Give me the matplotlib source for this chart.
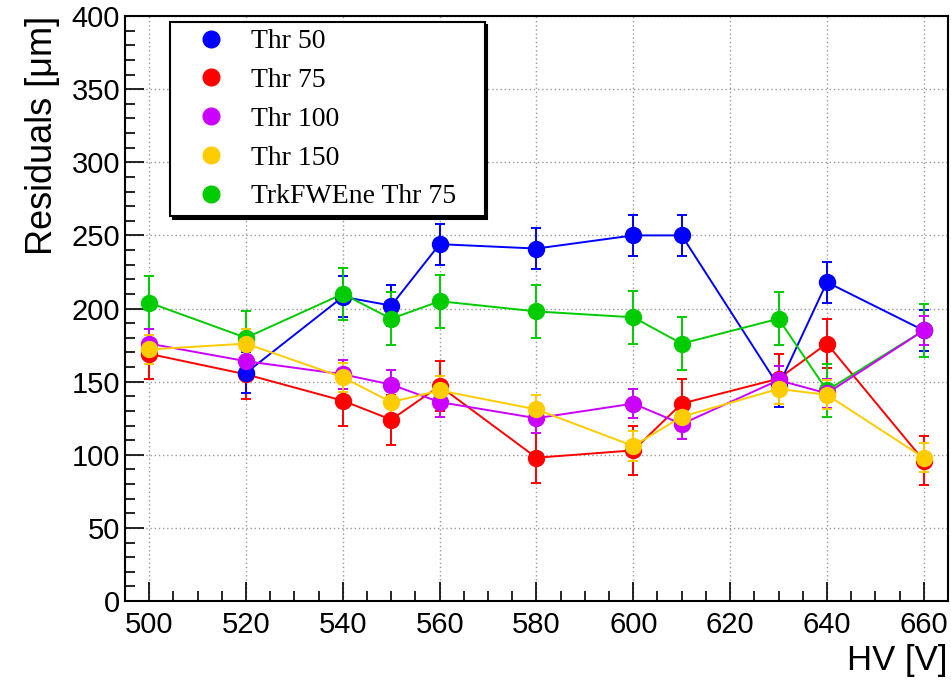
import matplotlib
matplotlib.use('Agg')
import matplotlib.pyplot as plt
from matplotlib.lines import Line2D
from matplotlib.ticker import MultipleLocator

# values
hv = [500, 520, 540, 550, 560, 580, 600, 610, 630, 640, 660]
hv_thr50 = [520, 540, 550, 560, 580, 600, 610, 630, 640, 660]

res_thr50 = [156, 208, 202, 244, 241, 250, 250, 147, 218, 185]
err_thr50 = [14, 14, 14, 14, 14, 14, 14, 14, 14, 14]
res_thr75 = [169, 155, 137, 124, 147, 98, 103, 135, 152, 176, 96]
err_thr75 = [17, 17, 17, 17, 17, 17, 17, 17, 17, 17, 17]
res_thr100 = [176, 164, 155, 148, 136, 125, 135, 121, 151, 142, 185]
err_thr100 = [10, 10, 10, 10, 10, 10, 10, 10, 10, 10, 10]
res_thr150 = [172, 176, 153, 136, 144, 131, 106, 126, 145, 141, 98]
err_thr150 = [10, 10, 10, 10, 10, 10, 10, 10, 10, 10, 10]
res_trk = [204, 180, 210, 193, 205, 198, 194, 176, 193, 144, 185]
err_trk = [18, 18, 18, 18, 18, 18, 18, 18, 18, 18, 18]

labels = ['Thr 50', 'Thr 75', 'Thr 100', 'Thr 150', 'TrkFWEne Thr 75']
colors = ['#0000ff', '#ff0000', '#cc00ff', '#ffcc00', '#00cc00']

plt.rcParams['font.family'] = 'Liberation Sans'

fig = plt.figure(figsize=(9.51, 6.84), dpi=100)
ax = fig.add_axes([0.1314, 0.1213, 0.8654, 0.8553])

# draw order: red, blue, green, magenta, yellow
series = [
    (hv, res_thr75, err_thr75, colors[1]),
    (hv_thr50, res_thr50, err_thr50, colors[0]),
    (hv, res_trk, err_trk, colors[4]),
    (hv, res_thr100, err_thr100, colors[2]),
    (hv, res_thr150, err_thr150, colors[3]),
]
for x, y, e, c in series:
    ax.errorbar(x, y, yerr=e, color=c, marker='o', markersize=11.5, lw=1.4,
                elinewidth=1.4, capsize=3.5, capthick=1.4)

ax.set_xlim(495, 665)
ax.set_ylim(0, 400)
ax.xaxis.set_major_locator(MultipleLocator(20))
ax.xaxis.set_minor_locator(MultipleLocator(5))
ax.yaxis.set_major_locator(MultipleLocator(50))
ax.yaxis.set_minor_locator(MultipleLocator(10))
ax.tick_params(which='both', direction='in', top=False, right=False, labelsize=21, width=1.2)
ax.tick_params(which='major', length=14)
ax.tick_params(which='minor', length=7)
ax.tick_params(axis='x', pad=7)
ax.grid(True, which='major', linestyle=(0, (1, 2)), color='#999999', lw=1)
for s in ax.spines.values():
    s.set_linewidth(1.5)

ax.set_ylabel('Residuals [μm]', fontsize=26, loc='top', labelpad=8)
ax.set_xlabel('HV [V]', fontsize=25, loc='right', labelpad=4)

# title is mostly cut off at the top of the picture, only subscripts show
fig.text(0.505, 1.005, 'Ar:CO$_2$:CF$_4$ 45:15:40', ha='center', va='baseline',
         fontsize=19, color='black')

handles = [Line2D([], [], color=c, marker='o', linestyle='none', markersize=12)
           for c in colors]
leg = ax.legend(handles, labels, loc='upper left', bbox_to_anchor=(0.055, 0.661, 0.382, 0.329),
                mode='expand', borderaxespad=0, fancybox=False, framealpha=1,
                edgecolor='black', prop={'family': 'Liberation Serif', 'size': 20},
                labelspacing=0.48, handlelength=2.4, handletextpad=0.25, borderpad=0.25,
                shadow={'color': 'black', 'alpha': 1})
leg.get_frame().set_linewidth(1.5)

fig.savefig('out.png', dpi=100)
